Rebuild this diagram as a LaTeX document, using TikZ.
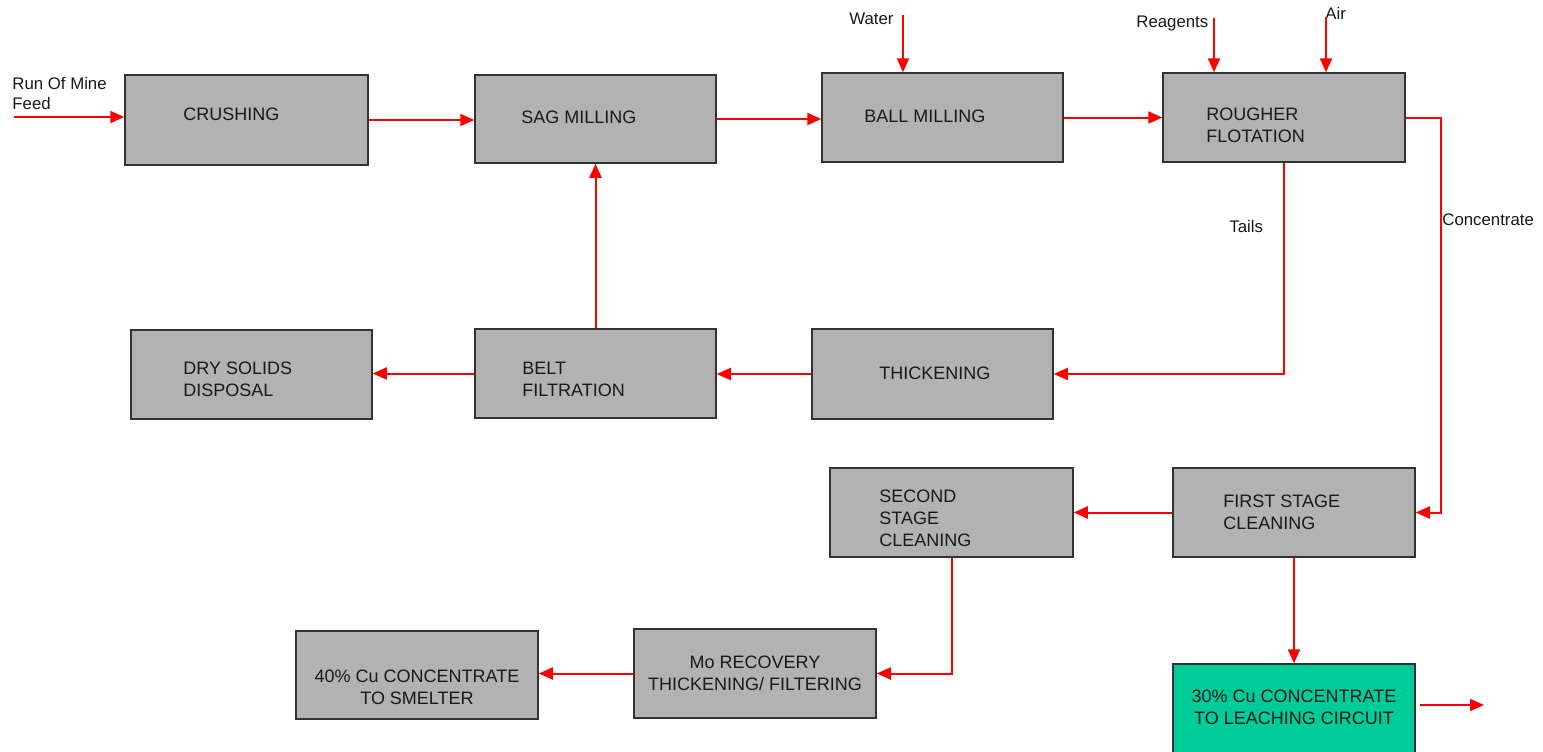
\documentclass[tikz,border=0pt]{standalone}
\usepackage{fontspec}
\setmainfont{Liberation Sans}
\usetikzlibrary{arrows.meta,calc}
\definecolor{boxgray}{HTML}{B2B2B2}
\definecolor{leach}{HTML}{00CC99}
\definecolor{frame}{HTML}{333333}
\definecolor{flowred}{HTML}{FF0000}
\tikzset{
  box/.style={draw=frame, line width=0.75pt, fill=boxgray, inner sep=0pt},
  greenbox/.style={box, fill=leach},
  txt/.style={inner sep=0pt, font=\fontsize{9}{11}\selectfont, align=left, text=black!90},
  ctxt/.style={txt, align=center},
  lbl/.style={inner sep=0pt, font=\fontsize{8.4}{10}\selectfont, align=left, text=black!90},
  flow/.style={draw=flowred, line width=1pt, -{Triangle[length=7pt,width=6pt]}}
}
\begin{document}
\begin{tikzpicture}[x=0.5pt,y=-0.5pt]
\clip (0,0) rectangle (1543,751);
\fill[white] (0,0) rectangle (1543,751);
% boxes
\node[box, minimum width=121.5pt, minimum height=45pt] (crush) at (246.5,120) {};
\node[box, minimum width=120.5pt, minimum height=44pt] (sag) at (595.5,119) {};
\node[box, minimum width=120.5pt, minimum height=44.5pt] (ball) at (942.5,117.5) {};
\node[box, minimum width=121pt, minimum height=44.5pt] (rough) at (1284,117.5) {};
\node[box, minimum width=120.5pt, minimum height=44.5pt] (dry) at (251.5,374.5) {};
\node[box, minimum width=120.5pt, minimum height=44.5pt] (belt) at (595.5,373.5) {};
\node[box, minimum width=120.5pt, minimum height=45pt] (thick) at (932.5,374) {};
\node[box, minimum width=121.5pt, minimum height=44.5pt] (second) at (951.5,512.5) {};
\node[box, minimum width=121pt, minimum height=44.5pt] (first) at (1294,512.5) {};
\node[box, minimum width=121pt, minimum height=44pt] (forty) at (417,675) {};
\node[box, minimum width=121pt, minimum height=44.5pt] (mo) at (755,673.5) {};
\node[greenbox, minimum width=121pt, minimum height=68pt] (thirty) at (1294,732) {};
% box texts
\node[txt, anchor=west] (crushT) at (183,114) {CRUSHING};
\node[txt, anchor=west] (sagT) at (521,117) {SAG MILLING};
\node[txt, anchor=west] (ballT) at (864,116) {BALL MILLING};
\node[txt, anchor=west] (roughT) at (1206,125) {ROUGHER\\FLOTATION};
\node[txt, anchor=west] (dryT) at (183,379) {DRY SOLIDS\\DISPOSAL};
\node[txt, anchor=west] (beltT) at (522,379) {BELT\\FILTRATION};
\node[txt, anchor=west] (thickT) at (879,373) {THICKENING};
\node[txt, anchor=west] (secondT) at (879,518) {SECOND\\STAGE\\CLEANING};
\node[txt, anchor=west] (firstT) at (1223,512.5) {FIRST STAGE\\CLEANING};
\node[ctxt] (fortyT) at (417,687.5) {40\% Cu CONCENTRATE\\TO SMELTER};
\node[ctxt] (moT) at (755,673) {Mo RECOVERY\\THICKENING/ FILTERING};
\node[ctxt] (thirtyT) at (1294,707.5) {30\% Cu CONCENTRATE\\TO LEACHING CIRCUIT};
% labels
\node[lbl, anchor=west] (romL) at (12,93) {Run Of Mine\\Feed};
\node[lbl, anchor=west] (waterL) at (849,19) {Water};
\node[lbl, anchor=west] (reagL) at (1136,23) {Reagents};
\node[lbl, anchor=west] (airL) at (1325,13) {Air};
\node[lbl, anchor=west] (tailsL) at (1229,226) {Tails};
\node[lbl, anchor=west] (concL) at (1442,220) {Concentrate};
% free ends
\coordinate (feedIn) at (14,117);
\coordinate (waterIn) at (903,15);
\coordinate (reagIn) at (1214,18);
\coordinate (airIn) at (1326,17);
\coordinate (outA) at (1420,705);
\coordinate (outB) at (1484,705);
% connectors
\draw[flow] (feedIn) -- (feedIn -| crush.west);
\draw[flow] (crush.east) -- (crush.east -| sag.west);
\draw[flow] (sag.east) -- (sag.east -| ball.west);
\draw[flow] (ball.east) -- (ball.east -| rough.west);
\draw[flow] (waterIn) -- (waterIn |- ball.north);
\draw[flow] (reagIn) -- (reagIn |- rough.north);
\draw[flow] (airIn) -- (airIn |- rough.north);
\draw[flow] (rough.east) -- ++(35,0) |- (first.east);
\draw[flow] (rough.south) |- (thick.east);
\draw[flow] (thick.west) -- (thick.west -| belt.east);
\draw[flow] (belt.west) -- (belt.west -| dry.east);
\draw[flow] (belt.north) -- (sag.south);
\draw[flow] (first.west) -- (first.west -| second.east);
\draw[flow] (second.south) |- (mo.east);
\draw[flow] (mo.west) -- (mo.west -| forty.east);
\draw[flow] (first.south) -- (thirty.north);
\draw[flow] (outA) -- (outB);
\end{tikzpicture}
\end{document}
